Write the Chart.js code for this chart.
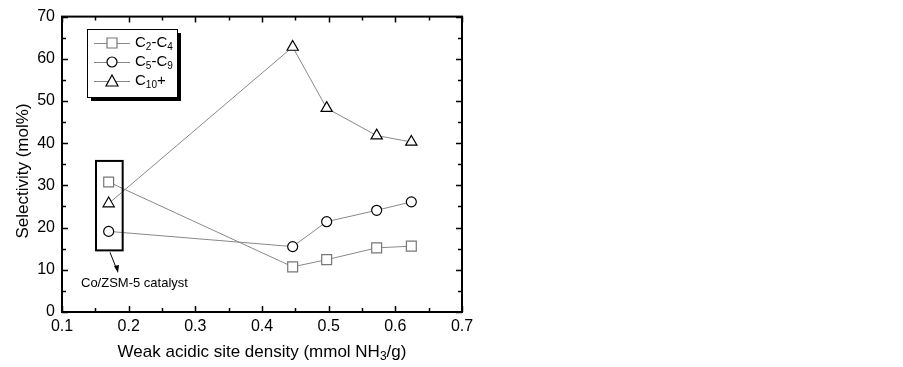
<!DOCTYPE html>
<html>
<head>
<meta charset="utf-8">
<script src="https://cdn.jsdelivr.net/npm/chart.js@4/dist/chart.umd.min.js"></script>
<style>
  html, body { margin: 0; padding: 0; background: #fff; }
  #wrap { width: 903px; height: 367px; position: relative; }
</style>
</head>
<body>
<div id="wrap"><canvas id="myChart"></canvas></div>
<script>
// values
var density = [0.17, 0.446, 0.497, 0.572, 0.624];
var c2c4 = [30.8, 10.7, 12.4, 15.2, 15.6];
var c5c9 = [19.1, 15.5, 21.4, 24.1, 26.1];
var c10plus = [25.7, 62.8, 48.3, 41.8, 40.3];
var xTicks = [0.1, 0.2, 0.3, 0.4, 0.5, 0.6, 0.7];
var yTicks = [0, 10, 20, 30, 40, 50, 60, 70];

var FONT = 'Arial, "Liberation Sans", sans-serif';

function pts(ys) {
  return density.map(function (x, i) { return { x: x, y: ys[i] }; });
}

// frame with inward ticks on all four sides
var framePlugin = {
  id: 'frame',
  afterDatasetsDraw: function (chart) {
    var c = chart.ctx, a = chart.chartArea;
    var xs = chart.scales.x, ys = chart.scales.y;
    c.save();
    c.strokeStyle = '#000';
    c.lineWidth = 2;
    c.strokeRect(a.left, a.top, a.right - a.left, a.bottom - a.top);
    c.lineWidth = 1.5;
    c.beginPath();
    for (var v = 0.1; v <= 0.7001; v += 0.05) {
      var px = Math.round(xs.getPixelForValue(v)) + 0.5;
      var len = (Math.round(v * 100) % 10 === 0) ? 6 : 4;
      c.moveTo(px, a.bottom); c.lineTo(px, a.bottom - len);
      c.moveTo(px, a.top); c.lineTo(px, a.top + len);
    }
    for (var w = 0; w <= 70; w += 5) {
      var py = Math.round(ys.getPixelForValue(w)) + 0.5;
      var l2 = (w % 10 === 0) ? 6 : 4;
      c.moveTo(a.left, py); c.lineTo(a.left + l2, py);
      c.moveTo(a.right, py); c.lineTo(a.right - l2, py);
    }
    c.stroke();
    c.restore();
  }
};

function subText(c, parts, x, y, size) {
  // parts: [text, isSub]
  var cx = x;
  parts.forEach(function (p) {
    if (p[1]) {
      c.font = Math.round(size * 0.68) + 'px ' + FONT;
      c.fillText(p[0], cx, y + size * 0.3);
    } else {
      c.font = size + 'px ' + FONT;
      c.fillText(p[0], cx, y);
    }
    cx += c.measureText(p[0]).width;
  });
  return cx;
}

function drawMarker(c, style, x, y, color) {
  c.save();
  c.fillStyle = '#fff';
  c.strokeStyle = color;
  c.lineWidth = 1.2;
  c.beginPath();
  if (style === 'rect') {
    c.rect(x - 5, y - 5, 10, 10);
  } else if (style === 'circle') {
    c.arc(x, y, 5, 0, Math.PI * 2);
  } else {
    c.moveTo(x, y - 6); c.lineTo(x + 6, y + 5); c.lineTo(x - 6, y + 5); c.closePath();
  }
  c.fill(); c.stroke();
  c.restore();
}

var decorPlugin = {
  id: 'decor',
  afterDraw: function (chart) {
    var c = chart.ctx, a = chart.chartArea;
    var xs = chart.scales.x, ys = chart.scales.y;
    c.save();

    // legend box with drop shadow
    var lx = 87, ly = 29, lw = 90, lh = 68;
    c.fillStyle = '#000';
    c.fillRect(lx + 4, ly + 4, lw, lh);
    c.fillStyle = '#fff';
    c.fillRect(lx, ly, lw, lh);
    c.strokeStyle = '#000';
    c.lineWidth = 1;
    c.strokeRect(lx + 0.5, ly + 0.5, lw, lh);
    var rows = [
      { y: 43, style: 'rect', color: '#777', parts: [['C', 0], ['2', 1], ['-C', 0], ['4', 1]] },
      { y: 62, style: 'circle', color: '#000', parts: [['C', 0], ['5', 1], ['-C', 0], ['9', 1]] },
      { y: 81, style: 'triangle', color: '#000', parts: [['C', 0], ['10', 1], ['+', 0]] }
    ];
    rows.forEach(function (r) {
      c.strokeStyle = '#888';
      c.lineWidth = 1;
      c.beginPath(); c.moveTo(94, r.y + 0.5); c.lineTo(130, r.y + 0.5); c.stroke();
      drawMarker(c, r.style, 112, r.y, r.color);
      c.fillStyle = '#000';
      c.textBaseline = 'middle';
      c.textAlign = 'left';
      subText(c, r.parts, 135, r.y, 15);
    });

    // catalyst box and arrow
    var bx0 = xs.getPixelForValue(0.151), bx1 = xs.getPixelForValue(0.191);
    var by0 = ys.getPixelForValue(35.8), by1 = ys.getPixelForValue(14.6);
    c.strokeStyle = '#000';
    c.lineWidth = 2;
    c.strokeRect(bx0, by0, bx1 - bx0, by1 - by0);
    c.lineWidth = 1;
    c.beginPath(); c.moveTo(110, by1 + 2); c.lineTo(117, 270); c.stroke();
    c.beginPath(); c.moveTo(118, 273); c.lineTo(114, 266); c.lineTo(119, 265); c.closePath();
    c.fillStyle = '#000'; c.fill();
    c.font = '13px ' + FONT;
    c.textBaseline = 'alphabetic';
    c.textAlign = 'left';
    c.fillText('Co/ZSM-5 catalyst', 81, 287);

    // y axis title
    c.save();
    c.translate(23, 171);
    c.rotate(-Math.PI / 2);
    c.textAlign = 'center';
    c.textBaseline = 'middle';
    c.font = '17px ' + FONT;
    c.fillText('Selectivity (mol%)', 0, 0);
    c.restore();

    // x axis title with subscript
    c.textAlign = 'left';
    c.textBaseline = 'middle';
    var parts = [['Weak acidic site density (mmol NH', 0], ['3', 1], ['/g)', 0]];
    c.font = '17px ' + FONT;
    var wTot = c.measureText(parts[0][0]).width + c.measureText(parts[2][0]).width;
    c.font = Math.round(17 * 0.68) + 'px ' + FONT;
    wTot += c.measureText('3').width;
    var cxm = (a.left + a.right) / 2;
    subText(c, parts, cxm - wTot / 2, 352, 17);
    c.restore();
  }
};

var ctx = document.getElementById('myChart').getContext('2d');
var myChart = new Chart(ctx, {
  type: 'scatter',
  data: {
    datasets: [{
      label: 'C2-C4',
      data: pts(c2c4),
      showLine: true,
      borderColor: '#888',
      borderWidth: 1,
      pointStyle: 'rect',
      pointRadius: 7,
      pointBorderColor: '#777',
      pointBackgroundColor: '#fff',
      pointBorderWidth: 1.2
    }, {
      label: 'C5-C9',
      data: pts(c5c9),
      showLine: true,
      borderColor: '#888',
      borderWidth: 1,
      pointStyle: 'circle',
      pointRadius: 5,
      pointBorderColor: '#000',
      pointBackgroundColor: '#fff',
      pointBorderWidth: 1.2
    }, {
      label: 'C10+',
      data: pts(c10plus),
      showLine: true,
      borderColor: '#888',
      borderWidth: 1,
      pointStyle: 'triangle',
      pointRadius: 6.5,
      pointBorderColor: '#000',
      pointBackgroundColor: '#fff',
      pointBorderWidth: 1.2
    }]
  },
  options: {
    responsive: true,
    maintainAspectRatio: false,
    animation: false,
    layout: { padding: { top: 12, right: 441, left: 0, bottom: 0 } },
    plugins: {
      legend: { display: false },
      tooltip: { enabled: false }
    },
    scales: {
      x: {
        type: 'linear',
        min: 0.1,
        max: 0.7,
        grid: { display: false, drawTicks: false },
        border: { display: false },
        afterBuildTicks: function (s) { s.ticks = xTicks.map(function (v) { return { value: v }; }); },
        afterFit: function (s) { s.height = 55; },
        ticks: {
          padding: 5,
          color: '#000',
          font: { family: FONT, size: 16 },
          callback: function (v) { return v.toFixed(1); }
        }
      },
      y: {
        min: 0,
        max: 70,
        grid: { display: false, drawTicks: false },
        border: { display: false },
        afterBuildTicks: function (s) { s.ticks = yTicks.map(function (v) { return { value: v }; }); },
        afterFit: function (s) { s.width = 62; },
        ticks: {
          padding: 7,
          color: '#000',
          font: { family: FONT, size: 16 }
        }
      }
    }
  },
  plugins: [framePlugin, decorPlugin]
});
</script>
</body>
</html>
